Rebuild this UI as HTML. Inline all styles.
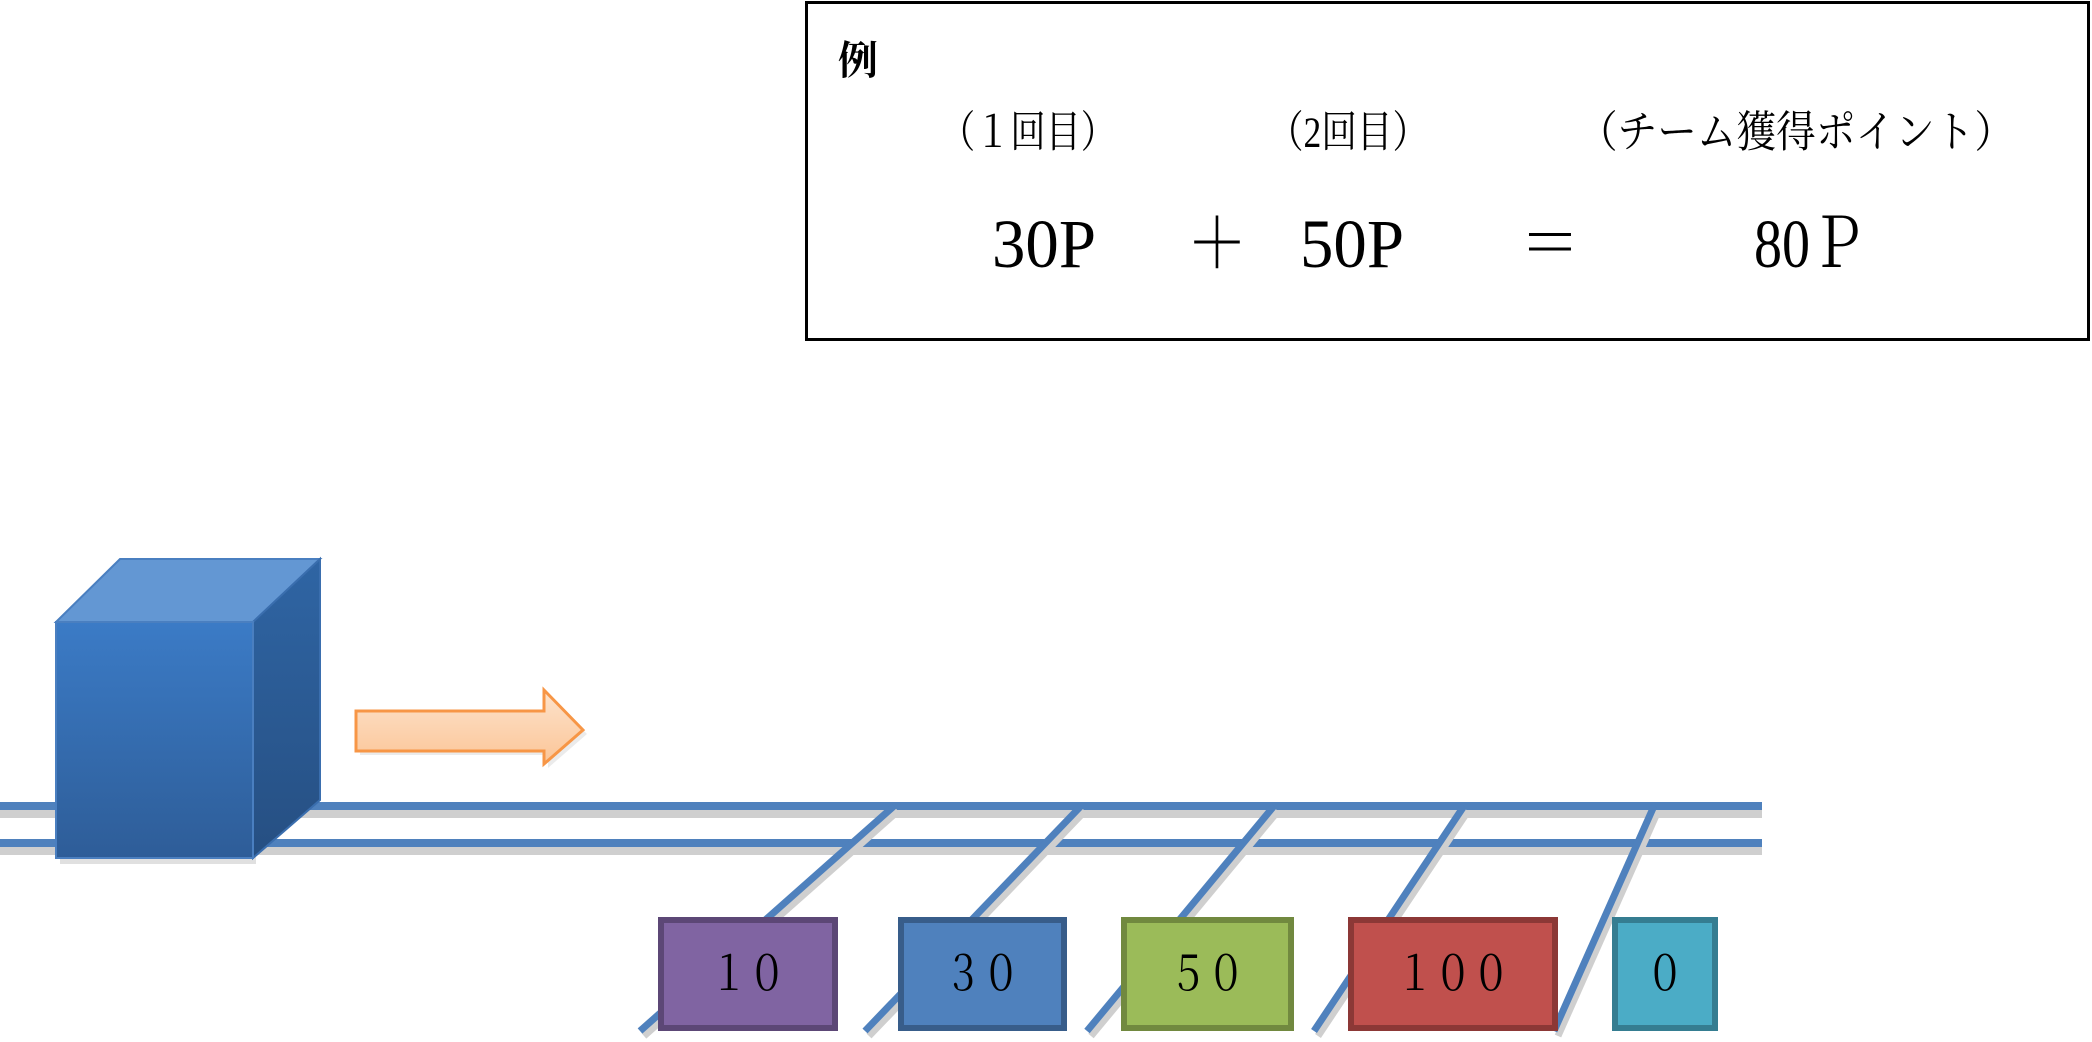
<!DOCTYPE html>
<html><head><meta charset="utf-8"><style>
html,body{margin:0;padding:0;background:#fff;}
svg{display:block}
.s{font-family:"Liberation Serif","Noto Serif CJK JP",serif;}
</style></head><body>
<svg width="2092" height="1042" viewBox="0 0 2092 1042" xmlns="http://www.w3.org/2000/svg">
<defs>
<linearGradient id="gf" x1="0" y1="0" x2="0" y2="1"><stop offset="0" stop-color="#3b7bc6"/><stop offset="1" stop-color="#2e5d98"/></linearGradient>
<linearGradient id="gs" x1="0" y1="0" x2="0" y2="1"><stop offset="0" stop-color="#2f65a4"/><stop offset="1" stop-color="#264f82"/></linearGradient>
<linearGradient id="ga" x1="0" y1="0" x2="0" y2="1"><stop offset="0" stop-color="#fde3cc"/><stop offset="1" stop-color="#fbc597"/></linearGradient>
</defs>
<rect x="806.5" y="2.5" width="1282" height="337" fill="#fff" stroke="#000" stroke-width="3"/>
<text class="s" x="838" y="74" font-size="40" font-weight="bold">例</text>
<g class="s" font-size="38" transform="translate(0,147) scale(1,1.15)">
<text x="940" y="0" textLength="176" lengthAdjust="spacingAndGlyphs">（１回目）</text>
<text x="1268" y="0" textLength="160" lengthAdjust="spacingAndGlyphs">（2回目）</text>
<text x="1578" y="0" textLength="436" lengthAdjust="spacingAndGlyphs">（チーム獲得ポイント）</text>
</g>
<g class="s" font-size="60" transform="translate(0,267) scale(1,1.15)">
<text x="992" y="0" textLength="104" lengthAdjust="spacingAndGlyphs">30P</text>
<text x="1187" y="0">＋</text>
<text x="1300" y="0" textLength="104" lengthAdjust="spacingAndGlyphs">50P</text>
<text x="1520" y="0">＝</text>
<text x="1754" y="0" textLength="112" lengthAdjust="spacingAndGlyphs">80Ｐ</text>
</g>
<rect x="0" y="810" width="1762" height="8" fill="#cfcfcf"/>
<rect x="0" y="847" width="1762" height="8" fill="#cfcfcf"/>
<rect x="0" y="802" width="1762" height="8" fill="#4f81bd"/>
<rect x="0" y="839" width="1762" height="8" fill="#4f81bd"/>
<g stroke-width="7" stroke-linecap="butt">
<g stroke="#cfcfcf" transform="translate(4,5)">
<line x1="894" y1="806" x2="640" y2="1031"/>
<line x1="1081" y1="806" x2="865" y2="1031"/>
<line x1="1274" y1="806" x2="1087" y2="1031"/>
<line x1="1464" y1="806" x2="1314" y2="1031"/>
<line x1="1654" y1="806" x2="1554" y2="1031"/>
</g>
<g stroke="#4f81bd">
<line x1="894" y1="806" x2="640" y2="1031"/>
<line x1="1081" y1="806" x2="865" y2="1031"/>
<line x1="1274" y1="806" x2="1087" y2="1031"/>
<line x1="1464" y1="806" x2="1314" y2="1031"/>
<line x1="1654" y1="806" x2="1554" y2="1031"/>
</g>
</g>
<rect x="60" y="626" width="196" height="238" fill="#000" opacity="0.12"/>
<polygon points="56,622 120,559 320,559 253,622" fill="#6397d3" stroke="#4a7fc0" stroke-width="2"/>
<polygon points="253,622 320,559 320,800 253,858" fill="url(#gs)" stroke="#3a6eae" stroke-width="2"/>
<rect x="56" y="622" width="197" height="236" fill="url(#gf)" stroke="#4a7fc0" stroke-width="2"/>
<polygon points="360,715 548,715 548,694 587,734 548,768 548,755 360,755" fill="#000" opacity="0.08"/>
<polygon points="356,711 544,711 544,690 583,730 544,764 544,751 356,751" fill="url(#ga)" stroke="#f79646" stroke-width="3"/>
<g stroke-width="6">
<rect x="661" y="920" width="174" height="108" fill="#8064a2" stroke="#5c4776"/>
<rect x="901" y="920" width="163" height="108" fill="#4f81bd" stroke="#385d8a"/>
<rect x="1124" y="920" width="167" height="108" fill="#9bbb59" stroke="#71893f"/>
<rect x="1351" y="920" width="204" height="108" fill="#c0504d" stroke="#8c3836"/>
<rect x="1615" y="920" width="100" height="108" fill="#4bacc6" stroke="#357d91"/>
</g>
<g class="s" font-size="38" text-anchor="middle" transform="translate(0,990) scale(1,1.25)">
<text x="748" y="0">１０</text>
<text x="982" y="0">３０</text>
<text x="1207" y="0">５０</text>
<text x="1453" y="0">１００</text>
<text x="1665" y="0">０</text>
</g>
</svg>
</body></html>
